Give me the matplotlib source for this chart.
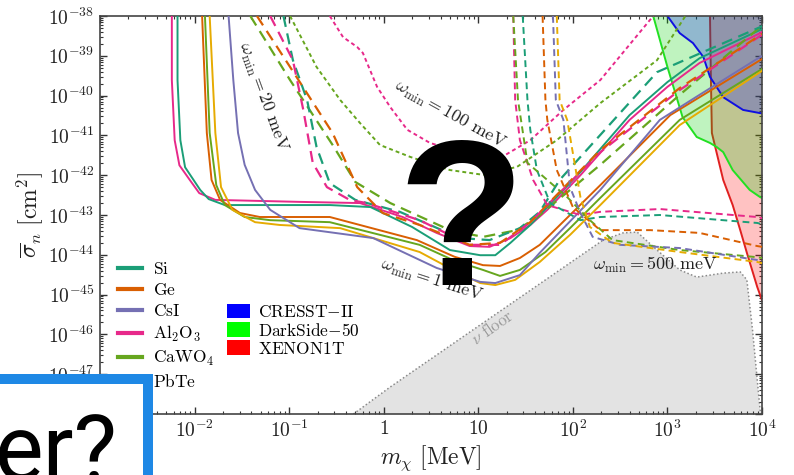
import numpy as np
import matplotlib
matplotlib.use("Agg")
import matplotlib.pyplot as plt
from matplotlib.patches import Rectangle, Patch
from matplotlib.lines import Line2D
from matplotlib.ticker import LogLocator, FuncFormatter, NullFormatter

plt.rcParams['mathtext.fontset'] = 'cm'
plt.rcParams['font.family'] = 'serif'
plt.rcParams['font.serif'] = ['cmr10', 'DejaVu Serif']
plt.rcParams['axes.formatter.use_mathtext'] = True
plt.rcParams['axes.unicode_minus'] = False

# all values, as log10(m / MeV) and log10(sigma / cm^2)

# omega_min = 1 meV (solid)
si_w1_m = [-2.18, -2.18, -2.15, -2.10, -1.94, -1.85, -1.68, -0.57, -0.14, 0.30, 0.70, 1.02, 1.18, 1.34, 1.55, 1.73, 2.08, 2.60, 3.00, 3.34, 3.98, 4.0]
si_w1_s = [-38.0, -39.61, -41.12, -41.80, -42.37, -42.60, -42.75, -42.75, -42.80, -43.30, -43.88, -44.01, -44.01, -43.70, -43.25, -42.80, -41.92, -40.49, -39.66, -39.06, -38.35, -38.33]
ge_w1_m = [-1.92, -1.87, -1.82, -1.73, -1.52, -1.31, -0.57, 0.35, 0.75, 1.05, 1.23, 1.44, 1.65, 1.97, 2.29, 3.03, 3.98, 4.0]
ge_w1_s = [-38.0, -40.94, -42.12, -42.62, -42.95, -43.05, -43.05, -43.63, -44.05, -44.26, -44.28, -44.08, -43.75, -43.00, -42.25, -40.49, -39.11, -39.08]
csi_w1_m = [-1.64, -1.59, -1.54, -1.47, -1.36, -1.20, -0.89, -0.11, 0.56, 1.02, 1.18, 1.44, 1.65, 2.29, 2.92, 3.34, 3.98, 4.0]
csi_w1_s = [-38.0, -39.61, -40.94, -41.74, -42.37, -42.87, -43.33, -43.58, -44.33, -44.68, -44.71, -44.51, -43.95, -42.37, -40.61, -39.98, -39.03, -39.01]
al_w1_m = [-2.24, -2.24, -2.21, -2.16, -2.05, -1.95, -1.78, -0.89, -0.25, 0.20, 0.56, 0.91, 1.12, 1.34, 1.55, 1.73, 2.08, 2.60, 3.00, 3.34, 3.98, 4.0]
al_w1_s = [-38.0, -39.61, -41.12, -41.75, -42.12, -42.45, -42.62, -42.67, -42.70, -43.05, -43.45, -43.78, -43.80, -43.58, -43.25, -42.87, -42.00, -40.61, -39.78, -39.18, -38.43, -38.40]
cawo_w1_m = [-1.89, -1.84, -1.77, -1.68, -1.47, -1.20, -0.57, 0.38, 0.75, 1.05, 1.23, 1.44, 1.71, 1.97, 2.29, 3.13, 3.98, 4.0]
cawo_w1_s = [-38.0, -40.94, -42.25, -42.75, -43.05, -43.13, -43.18, -43.75, -44.15, -44.38, -44.53, -44.38, -43.93, -43.33, -42.57, -40.61, -39.36, -39.33]
pbte_w1_m = [-1.84, -1.78, -1.72, -1.60, -1.36, -1.10, -0.46, 0.38, 0.75, 1.02, 1.18, 1.39, 1.65, 1.97, 2.29, 3.13, 3.98, 4.0]
pbte_w1_s = [-38.0, -40.94, -42.30, -42.87, -43.18, -43.25, -43.33, -43.93, -44.40, -44.71, -44.76, -44.63, -44.18, -43.50, -42.75, -40.74, -39.41, -39.38]

# omega_min = 20 meV (long dashes)
si_w20_m = [-1.06, -0.96, -0.81, -0.71, -0.57, -0.30, 0.17, 0.81, 1.12, 1.44, 1.65, 1.86, 2.89, 3.98, 4.0]
si_w20_s = [-38.0, -39.11, -40.11, -41.29, -42.20, -42.62, -42.92, -43.58, -43.63, -43.33, -42.92, -42.12, -39.41, -38.28, -38.25]
ge_w20_m = [-1.34, -0.99, -0.54, -0.28, -0.01, 0.38, 0.91, 1.23, 1.55, 2.29, 3.13, 3.98, 4.0]
ge_w20_s = [-38.0, -39.28, -40.94, -42.30, -42.95, -43.25, -43.75, -43.70, -43.18, -41.37, -39.81, -38.48, -38.45]
al_w20_m = [-1.20, -0.96, -0.85, -0.75, -0.60, -0.36, -0.18, 0.38, 0.91, 1.23, 1.55, 2.29, 3.13, 3.98, 4.0]
al_w20_s = [-38.0, -39.11, -40.36, -41.69, -42.30, -42.62, -42.70, -43.13, -43.75, -43.75, -43.18, -41.42, -39.86, -38.50, -38.48]
cawo_w20_m = [-1.41, -0.99, -0.54, -0.30, 0.07, 0.70, 1.05, 1.41, 1.65, 2.29, 3.13, 3.98, 4.0]
cawo_w20_s = [-38.0, -39.61, -41.24, -42.17, -42.70, -43.38, -43.55, -43.38, -43.00, -41.74, -39.98, -38.28, -38.25]

# omega_min = 100 meV (dotted)
al_w100_m = [-0.57, -0.43, -0.28, -0.22, -0.07, 0.07, 0.25, 0.49, 0.91, 1.23, 1.55, 1.90, 2.29, 2.85]
al_w100_s = [-38.0, -38.53, -38.78, -38.93, -39.78, -40.29, -40.86, -41.19, -41.49, -41.57, -41.12, -40.36, -39.61, -38.0]
cawo_w100_m = [-0.99, -0.71, -0.46, -0.25, -0.04, 0.28, 0.70, 1.05, 1.41, 1.83, 2.29, 2.89, 3.19]
cawo_w100_s = [-38.0, -39.28, -40.11, -40.69, -41.24, -41.54, -41.87, -41.99, -41.79, -41.12, -40.19, -39.11, -38.0]

# omega_min = 500 meV (short dashes)
si_w500_m = [1.47, 1.52, 1.55, 1.62, 1.76, 2.08, 2.29, 2.92, 3.95, 4.0]
si_w500_s = [-38.0, -40.11, -40.86, -41.87, -42.70, -43.13, -43.05, -43.00, -43.20, -43.23]
ge_w500_m = [1.68, 1.71, 1.73, 1.83, 2.00, 2.29, 2.82, 3.34, 3.95, 4.0]
ge_w500_s = [-38.0, -40.11, -40.61, -41.87, -42.80, -43.38, -43.38, -43.45, -43.78, -43.80]
csi_w500_m = [1.79, 1.82, 1.90, 1.97, 2.08, 2.21, 2.50, 3.13, 3.95, 4.0]
csi_w500_s = [-38.0, -40.11, -40.61, -42.30, -42.95, -43.55, -43.75, -43.83, -44.13, -44.16]
al_w500_m = [1.37, 1.39, 1.44, 1.58, 1.73, 2.08, 2.29, 2.92, 3.95, 4.0]
al_w500_s = [-38.0, -40.11, -41.12, -42.12, -42.75, -43.00, -42.92, -42.85, -43.05, -43.08]
cawo_w500_m = [1.37, 1.42, 1.52, 1.94, 2.18, 2.42, 3.13, 3.95, 4.0]
cawo_w500_s = [-38.0, -40.11, -41.69, -42.55, -43.13, -43.63, -43.88, -44.06, -44.08]
pbte_w500_m = [1.83, 1.86, 1.94, 2.08, 2.18, 2.42, 3.13, 3.95, 4.0]
pbte_w500_s = [-38.0, -40.11, -40.61, -42.55, -43.30, -43.70, -43.93, -44.18, -44.21]

# experimental exclusion boundaries
xenon_m = [3.45, 3.46, 3.47, 3.59, 3.69, 3.77, 3.84, 3.95, 4.0]
xenon_s = [-38.0, -39.61, -40.94, -42.12, -42.75, -43.38, -43.95, -44.81, -45.14]
darkside_m = [2.85, 3.00, 3.16, 3.31, 3.45, 3.52, 3.59, 3.69, 3.87, 3.98, 4.0]
darkside_s = [-38.0, -39.28, -40.54, -41.04, -41.19, -41.29, -41.42, -41.87, -42.37, -42.55, -42.57]
cresst_m = [3.00, 3.13, 3.27, 3.38, 3.45, 3.59, 3.80, 3.98, 4.0]
cresst_s = [-38.0, -38.43, -38.68, -39.03, -39.53, -40.04, -40.36, -40.44, -40.44]

# neutrino floor
floor_m = [-0.32, 0.07, 2.32, 2.53, 2.68, 2.89, 3.13, 3.31, 3.59, 3.77, 3.84, 3.90, 3.95, 3.98, 4.0]
floor_s = [-48.0, -47.32, -43.63, -43.45, -43.43, -43.88, -44.38, -44.56, -44.46, -44.43, -44.63, -45.89, -47.15, -47.90, -48.0]

materials = ['Si', 'Ge', 'CsI', 'Al2O3', 'CaWO4', 'PbTe']
mat_labels = [r'$\mathrm{Si}$', r'$\mathrm{Ge}$', r'$\mathrm{CsI}$', r'$\mathrm{Al_2O_3}$',
              r'$\mathrm{CaWO_4}$', r'$\mathrm{PbTe}$']
mat_colors = ['#1b9e77', '#d95f02', '#7570b3', '#e7298a', '#66a61e', '#e6ab02']
experiments = [r'$\mathrm{CRESST{-}II}$', r'$\mathrm{DarkSide{-}50}$', r'$\mathrm{XENON1T}$']
exp_colors = ['#0000ff', '#00ff00', '#ff0000']

col = dict(zip(materials, mat_colors))

fig = plt.figure(figsize=(7.94, 4.75), dpi=100)
ax = fig.add_axes([0.1259, 0.1284, 0.8338, 0.8379])
ax.set_xscale('log')
ax.set_yscale('log')


def curve(m, s, c, **kw):
    ax.plot(10 ** np.array(m), 10 ** np.array(s), color=c, **kw)


# neutrino floor
ax.fill(10 ** np.array(floor_m), 10 ** np.array(floor_s), color='#e3e3e3', lw=0, zorder=1)
ax.plot(10 ** np.array(floor_m), 10 ** np.array(floor_s), color='#8a8a8a', lw=1.1, ls=(0, (1, 1.5)), zorder=1.5)


# experiments
def region(m, s, c, a, lc, z):
    ax.fill(10 ** np.array(m + [4.0]), 10 ** np.array(s + [-38.0]), color=c, alpha=a, lw=0, zorder=z)
    ax.plot(10 ** np.array(m), 10 ** np.array(s), color=lc, lw=1.4, zorder=z + 0.1)


region(xenon_m, xenon_s, '#ff0000', 0.24, '#e02020', 2.0)
region(darkside_m, darkside_s, '#00d000', 0.25, '#22e022', 2.2)
region(cresst_m, cresst_s, '#0000ff', 0.24, '#1010e0', 2.4)

lw = 1.4
w1 = dict(lw=lw, ls='-', zorder=4)
w20 = dict(lw=lw + 0.2, ls=(0, (5, 3)), zorder=4)
w100 = dict(lw=lw, ls=(0, (2, 1.6)), zorder=4)
w500 = dict(lw=lw, ls=(0, (3.5, 2.2)), zorder=4)

curve(al_w1_m, al_w1_s, col['Al2O3'], **w1)
curve(si_w1_m, si_w1_s, col['Si'], **w1)
curve(ge_w1_m, ge_w1_s, col['Ge'], **w1)
curve(cawo_w1_m, cawo_w1_s, col['CaWO4'], **w1)
curve(pbte_w1_m, pbte_w1_s, col['PbTe'], **w1)
curve(csi_w1_m, csi_w1_s, col['CsI'], **w1)

curve(cawo_w20_m, cawo_w20_s, col['CaWO4'], **w20)
curve(si_w20_m, si_w20_s, col['Si'], **w20)
curve(al_w20_m, al_w20_s, col['Al2O3'], **w20)
curve(ge_w20_m, ge_w20_s, col['Ge'], **w20)

curve(al_w100_m, al_w100_s, col['Al2O3'], **w100)
curve(cawo_w100_m, cawo_w100_s, col['CaWO4'], **w100)

curve(al_w500_m, al_w500_s, col['Al2O3'], **w500)
curve(si_w500_m, si_w500_s, col['Si'], **w500)
curve(cawo_w500_m, cawo_w500_s, col['CaWO4'], **w500)
curve(ge_w500_m, ge_w500_s, col['Ge'], **w500)
curve(csi_w500_m, csi_w500_s, col['CsI'], **w500)
curve(pbte_w500_m, pbte_w500_s, col['PbTe'], **w500)

ax.set_xlim(1e-3, 1e4)
ax.set_ylim(1e-48, 1e-38)

ax.xaxis.set_major_locator(LogLocator(base=10, numticks=20))
ax.yaxis.set_major_locator(LogLocator(base=10, numticks=20))
ax.xaxis.set_minor_locator(LogLocator(base=10, subs=np.arange(2, 10), numticks=200))
ax.yaxis.set_minor_locator(LogLocator(base=10, subs=np.arange(2, 10), numticks=200))
ax.xaxis.set_minor_formatter(NullFormatter())
ax.yaxis.set_minor_formatter(NullFormatter())


def xfmt(v, pos):
    e = int(round(np.log10(v)))
    if e == 0:
        return r'$1$'
    if e == 1:
        return r'$10$'
    return r'$10^{%d}$' % e


ax.xaxis.set_major_formatter(FuncFormatter(xfmt))
ax.yaxis.set_major_formatter(FuncFormatter(lambda v, p: r'$10^{%d}$' % int(round(np.log10(v)))))
ax.tick_params(which='both', direction='in', top=True, right=True, colors='#333333', labelcolor='#222222')
ax.tick_params(which='major', length=5, width=1.0, labelsize=14, pad=4)
ax.tick_params(which='minor', length=2.5, width=0.8)
for sp in ax.spines.values():
    sp.set_color('#444444')
    sp.set_linewidth(1.2)

ax.set_xlabel(r'$m_\chi\ [\mathrm{MeV}]$', fontsize=17, labelpad=2, color='#222222')
ax.set_ylabel(r'$\overline{\sigma}_n\ [\mathrm{cm}^2]$', fontsize=17, labelpad=2, color='#222222')

# annotations
tc = '#222222'
ax.text(10 ** -1.28, 10 ** -40.04, r'$\omega_{\min} = 20\ \mathrm{meV}$', rotation=-70, fontsize=13,
        ha='center', va='center', rotation_mode='anchor', color=tc, zorder=6)
ax.text(10 ** 0.70, 10 ** -40.49, r'$\omega_{\min} = 100\ \mathrm{meV}$', rotation=-29, fontsize=13,
        ha='center', va='center', rotation_mode='anchor', color=tc, zorder=6)
ax.text(10 ** 0.51, 10 ** -44.63, r'$\omega_{\min} = 1\ \mathrm{meV}$', rotation=-18, fontsize=13,
        ha='center', va='center', rotation_mode='anchor', color=tc, zorder=6)
ax.text(10 ** 2.87, 10 ** -44.26, r'$\omega_{\min} = 500\ \mathrm{meV}$', fontsize=13,
        ha='center', va='center', color=tc, zorder=6)
ax.text(10 ** 1.15, 10 ** -45.81, r'$\nu\ \mathrm{floor}$', rotation=35, fontsize=12,
        ha='center', va='center', rotation_mode='anchor', color='#9a9a9a', zorder=6)

# legends
h1 = [Line2D([], [], color=c, lw=3) for c in mat_colors]
leg1 = ax.legend(h1, mat_labels, loc='upper left', bbox_to_anchor=(0.027, 0.385), frameon=False,
                 fontsize=12.5, handlelength=1.4, handletextpad=0.6, labelspacing=0.29,
                 borderpad=0, borderaxespad=0)
ax.add_artist(leg1)
h2 = [Patch(facecolor=c, edgecolor='none') for c in exp_colors]
ax.legend(h2, experiments, loc='upper left', bbox_to_anchor=(0.192, 0.277), frameon=False,
          fontsize=12.5, handlelength=1.3, handleheight=0.9, handletextpad=0.5, labelspacing=0.1,
          borderpad=0, borderaxespad=0)

# overlays on top of the figure
fig.text(0.581, 0.513, '?', fontsize=150, fontweight='bold', family='Liberation Sans',
         ha='center', va='center', color='black', zorder=20)
fig.patches.append(Rectangle((-0.05, -0.05), 0.05 + 147.5 / 794, 0.05 + 1 - 379 / 475,
                             transform=fig.transFigure, facecolor='white', edgecolor='#1e88e5',
                             linewidth=7.2, zorder=30))
fig.text(-0.006, -0.0105, 'er?', fontsize=66, family='Roboto', ha='left', va='baseline',
         color='black', zorder=31)

fig.savefig('out.png', dpi=100)
